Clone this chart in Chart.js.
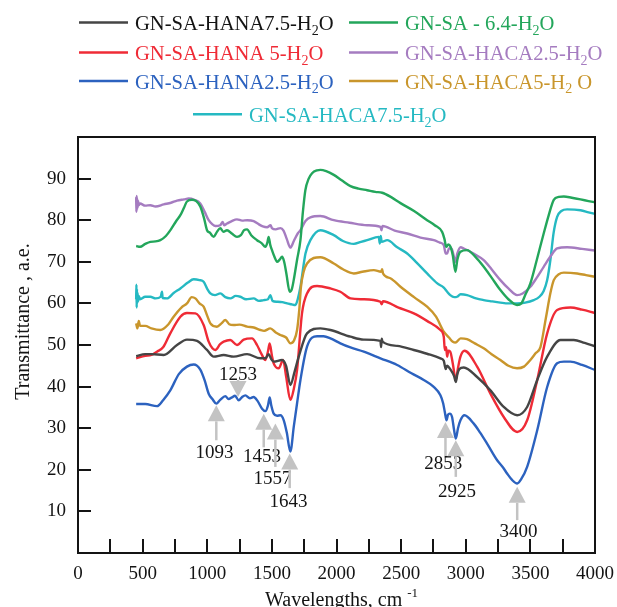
<!DOCTYPE html>
<html>
<head>
<meta charset="utf-8">
<script src="https://cdn.jsdelivr.net/npm/chart.js@4.4.1/dist/chart.umd.min.js"></script>
<style>
html,body{margin:0;padding:0;background:#ffffff;}
canvas{display:block;}
</style>
</head>
<body>
<canvas id="c" width="617" height="607"></canvas>
<script>
// ---------------- DATA ----------------
const seriesLabels = ['GN-SA-HANA7.5-H₂O','GN-SA - 6.4-H₂O','GN-SA-HANA 5-H₂O','GN-SA-HACA2.5-H₂O','GN-SA-HANA2.5-H₂O','GN-SA-HACA5-H₂ O','GN-SA-HACA7.5-H₂O'];
const xTickLabels = ['0','500','1000','1500','2000','2500','3000','3500','4000'];
const yTickLabels = ['10','20','30','40','50','60','70','80','90'];

const hana75X = [450,520,568,663,766,843,921,998,1050,1127,1204,1308,1411,1450,1475,1495,1514,1579,1610,1643,1675,1708,1772,1875,1953,2108,2211,2340,2345,2350,2356,2470,2598,2700,2804,2830,2845,2855,2865,2880,2910,2923,2935,2950,2985,3088,3191,3294,3398,3475,3553,3630,3733,3836,3920,4000];
const hana75Y = [47.3,47.8,47.8,47.6,50.0,51.3,51.0,48.8,47.2,47.6,47.2,47.8,46.8,46.8,47.8,46.6,46.0,46.4,45.0,40.4,43.5,47.2,52.8,54.0,53.6,52.0,51.3,51.0,49.5,51.5,50.8,49.8,48.8,47.9,46.8,46.2,44.2,45.0,44.8,44.2,42.5,41.1,43.0,44.2,44.6,42.3,39.1,35.1,33.1,35.1,41.6,47.2,51.2,51.2,50.5,49.7];

const gnsaX = [450,480,520,560,600,637,680,715,760,792,820,843,882,915,946,975,998,1020,1050,1075,1101,1125,1153,1190,1230,1260,1285,1308,1340,1385,1420,1450,1465,1475,1488,1501,1520,1540,1560,1579,1595,1612,1638,1655,1669,1695,1721,1740,1759,1785,1811,1850,1875,1920,1979,2040,2108,2170,2237,2300,2353,2420,2495,2600,2701,2760,2817,2835,2849,2865,2882,2900,2920,2935,2959,3010,3080,3139,3200,3268,3330,3397,3430,3460,3500,3550,3603,3640,3681,3720,3759,3820,3888,3950,4000];
const gnsaY = [73.8,73.6,74.3,74.8,74.9,75.2,76.2,77.6,79.8,81.2,83.0,84.5,84.9,84.6,83.3,80.5,77.6,77.0,76.0,77.2,78.1,77.2,77.6,76.8,76.0,76.4,77.6,77.8,76.4,75.2,74.5,73.6,74.6,76.0,74.0,72.8,71.2,70.0,70.5,71.2,70.0,67.2,62.8,63.5,65.6,70.5,75.2,82.0,87.2,90.0,91.3,92.0,92.1,91.8,90.9,89.6,88.2,87.6,87.2,86.8,86.6,85.6,84.1,82.2,80.0,78.8,77.2,75.5,73.6,74.2,73.6,71.5,67.6,70.5,72.4,72.8,71.0,68.8,66.2,63.2,61.0,59.6,60.0,62.0,64.8,70.5,76.8,81.0,84.9,85.6,85.7,85.4,85.0,84.6,84.3];

const hana5X = [450,520,568,611,660,714,792,843,908,972,1011,1040,1062,1100,1127,1178,1230,1282,1346,1385,1420,1450,1470,1483,1500,1514,1553,1587,1610,1643,1670,1695,1733,1772,1850,1953,2030,2108,2200,2340,2350,2360,2480,2598,2700,2804,2830,2838,2848,2856,2865,2880,2900,2923,2940,2959,2990,3088,3191,3294,3398,3475,3553,3630,3707,3810,3900,4000];
const hana5Y = [46.8,47.4,47.6,48.4,49.5,52.8,56.8,57.7,57.6,54.8,50.8,49.2,48.8,50.2,50.8,51.2,50.0,51.3,51.6,50.0,47.8,46.4,48.5,50.4,47.5,45.6,44.4,46.4,42.5,36.8,39.5,44.0,57.6,62.4,64.2,63.6,62.8,61.2,61.0,60.4,59.8,60.5,59.0,57.6,55.8,53.6,52.0,48.8,49.5,47.2,48.6,48.4,45.5,41.6,44.5,47.2,48.6,44.8,38.3,32.7,29.1,31.9,41.6,52.8,58.4,59.0,58.5,57.7];

const haca25X = [450,452,454,456,458,461,465,470,480,520,560,600,663,720,766,820,856,900,946,980,1011,1040,1063,1100,1120,1130,1153,1190,1230,1270,1310,1359,1400,1430,1463,1490,1500,1530,1566,1590,1615,1643,1670,1700,1721,1760,1798,1875,1979,2100,2237,2340,2348,2356,2450,2547,2650,2753,2800,2830,2845,2856,2870,2890,2910,2920,2935,2960,2985,3060,3139,3200,3268,3330,3397,3440,3500,3550,3603,3660,3707,3784,3900,4000];
const haca25Y = [85.5,82.0,85.8,82.5,85.2,83.0,84.6,83.6,84.0,83.5,83.6,83.3,83.8,84.2,84.7,85.0,85.2,84.9,84.0,82.0,80.0,79.0,78.6,78.8,79.6,78.8,79.2,79.8,80.2,79.9,80.0,79.8,79.0,78.5,78.3,78.8,78.1,77.8,78.1,77.5,75.5,73.4,75.0,76.8,77.6,79.8,80.7,81.0,80.0,79.4,78.8,78.4,77.6,78.6,77.5,76.8,75.8,75.2,74.6,74.0,72.0,72.0,73.2,73.2,71.0,70.0,72.0,73.5,73.2,72.0,70.4,68.2,65.6,63.6,62.0,62.4,64.0,66.2,68.8,71.5,73.2,73.5,73.1,72.7];

const hana25X = [450,520,611,660,714,780,843,895,946,980,1011,1040,1070,1100,1140,1165,1191,1215,1243,1270,1295,1330,1359,1390,1424,1450,1470,1483,1495,1514,1540,1566,1592,1615,1643,1670,1695,1721,1772,1850,1900,1953,2030,2108,2211,2340,2469,2580,2675,2750,2804,2825,2838,2851,2862,2876,2894,2910,2923,2940,2959,2990,3062,3110,3165,3243,3290,3320,3360,3398,3430,3475,3553,3630,3707,3760,3810,3900,4000];
const hana25Y = [35.8,35.8,35.3,36.8,39.1,43.0,44.8,45.3,44.1,41.5,38.3,37.0,35.9,36.8,37.7,37.0,37.4,37.8,36.7,37.5,37.9,37.2,37.5,36.5,34.7,34.1,35.5,37.4,35.5,33.5,33.0,33.1,31.9,29.0,24.4,30.5,36.0,41.6,49.6,52.1,52.1,51.6,50.4,49.4,48.4,46.8,45.2,43.2,41.6,40.0,37.9,36.0,33.9,31.9,33.2,33.5,32.7,29.5,27.5,30.0,31.9,33.1,31.1,29.0,26.3,22.3,20.5,19.1,17.5,16.7,17.8,20.7,29.5,39.9,45.6,46.0,46.0,45.2,44.0];

const haca5X = [450,460,470,480,520,568,637,700,740,800,843,880,908,940,972,1000,1024,1075,1110,1140,1170,1204,1250,1308,1360,1411,1440,1488,1530,1566,1610,1643,1670,1695,1712,1725,1745,1772,1875,1979,2050,2134,2200,2289,2345,2353,2360,2420,2495,2600,2701,2770,2830,2870,2900,2920,2960,3010,3070,3139,3200,3268,3330,3397,3450,3500,3540,3578,3620,3655,3681,3720,3759,3862,3930,4000];
const haca5Y = [55.2,54.0,55.8,54.6,54.6,54.0,53.6,55.0,56.8,59.0,60.0,61.5,61.2,60.0,59.2,57.0,55.2,54.4,55.2,56.0,55.0,54.8,54.9,54.4,54.2,53.6,53.4,54.0,53.0,52.4,51.8,50.4,51.0,53.6,58.5,64.0,67.5,69.6,71.1,69.6,68.2,67.2,67.6,68.0,67.6,68.2,67.2,66.0,64.0,61.5,59.2,56.8,53.2,51.8,50.8,50.6,51.6,51.4,50.4,49.2,47.8,46.4,45.0,44.4,44.8,46.4,48.0,49.5,56.5,62.5,65.6,67.0,67.4,67.2,66.8,66.4];

const haca75X = [450,452,454,456,458,461,465,470,480,520,560,600,640,650,655,689,740,792,850,895,940,972,1000,1024,1060,1101,1140,1179,1220,1256,1300,1359,1400,1437,1470,1488,1505,1540,1580,1618,1650,1682,1700,1721,1760,1798,1875,1979,2050,2134,2190,2237,2327,2335,2342,2350,2392,2470,2547,2620,2701,2780,2830,2856,2880,2910,2933,2960,3010,3080,3139,3200,3268,3330,3397,3460,3526,3570,3603,3630,3655,3680,3707,3740,3784,3888,3950,4000];
const haca75Y = [61.0,64.5,59.0,63.5,60.0,62.5,60.5,61.8,61.0,61.6,61.6,61.2,61.6,62.8,61.3,61.2,62.5,63.6,65.0,65.8,65.6,65.2,63.5,62.4,62.0,62.4,61.5,61.2,61.8,61.6,61.0,61.2,60.6,60.8,61.0,62.0,60.6,60.4,60.3,60.0,59.8,59.6,61.0,64.0,72.0,75.2,77.6,76.4,75.0,74.3,74.8,75.2,76.0,74.4,76.2,74.8,75.2,73.5,72.0,69.8,67.2,64.8,63.8,62.8,62.0,61.5,61.6,62.2,62.0,61.2,60.8,60.5,60.2,60.0,60.0,60.2,60.8,61.6,63.0,65.6,70.5,77.0,80.8,82.2,82.6,82.4,81.9,81.5];

// peak annotations (data coordinates)
const annoLabels = ['1093','1253','1453','1557','1643','2853','2925','3400'];
const annoX      = [1070, 1238, 1437, 1527, 1638, 2843, 2923, 3398];
const annoTip    = [35.5, 37.5, 33.5, 31.1, 23.9, 31.5, 27.1, 15.9];
const annoTail   = [27.1, 41.6, 25.4, 20.7, 15.6, 22.9, 18.3, 7.9];
const annoLabelX = [1057, 1238, 1424, 1504, 1628, 2825, 2933, 3409];
const annoLabelY = [24.3, 43.2, 23.3, 18.1, 12.7, 21.7, 14.9, 5.5];

// ---------------- STYLE ----------------
const SERIF = '"Liberation Serif","Times New Roman",Times,serif';
const colors = ['#454545','#23a65b','#ef2b36','#a57cc0','#2c62bf','#c9962c','#25b9c2'];
const textColors = ['#141414','#23a65b','#ef2b36','#a57cc0','#2c62bf','#c9962c','#25b9c2'];

function pts(xs, ys){ return xs.map((x,i)=>({x:x, y:ys[i]})); }
const seriesData = [
  pts(hana75X, hana75Y), pts(gnsaX, gnsaY), pts(hana5X, hana5Y), pts(haca25X, haca25Y),
  pts(hana25X, hana25Y), pts(haca5X, haca5Y), pts(haca75X, haca75Y)
];

function drawRich(ctx, text, x, y, size, color){
  ctx.fillStyle = color;
  ctx.textAlign = 'left';
  ctx.textBaseline = 'alphabetic';
  let cx = x;
  text.split(/(₂)/).forEach(p=>{
    if(!p) return;
    if(p === '₂'){
      ctx.font = Math.round(size*0.68)+'px '+SERIF;
      ctx.fillText('2', cx, y + size*0.24);
      cx += ctx.measureText('2').width;
    } else {
      ctx.font = size+'px '+SERIF;
      ctx.fillText(p, cx, y);
      cx += ctx.measureText(p).width;
    }
  });
  return cx - x;
}

const legendSlots = [
  {x:79,y:30},{x:349,y:30},
  {x:79,y:60},{x:349,y:60},
  {x:79,y:88.5},{x:349,y:88.5},
  {x:193,y:121.7}
];

const legendPlugin = {
  id:'ftirLegend',
  afterDraw(chart){
    const ctx = chart.ctx;
    ctx.save();
    chart.data.datasets.forEach((ds,i)=>{
      const s = legendSlots[i];
      ctx.strokeStyle = ds.borderColor;
      ctx.lineWidth = 2.5;
      ctx.beginPath();
      ctx.moveTo(s.x, s.y-7.5);
      ctx.lineTo(s.x+49, s.y-7.5);
      ctx.stroke();
      drawRich(ctx, ds.label, s.x+56, s.y, 20.6, textColors[i]);
    });
    ctx.restore();
  }
};

const decorPlugin = {
  id:'decor',
  afterDatasetsDraw(chart){
    const {ctx, scales:{x, y}} = chart;
    ctx.save();
    for(let i=0;i<annoLabels.length;i++){
      const px = x.getPixelForValue(annoX[i]);
      const tip = y.getPixelForValue(annoTip[i]);
      const tail = y.getPixelForValue(annoTail[i]);
      const dir = tail > tip ? 1 : -1;
      const headLen = 16, halfW = 8.5;
      const base = tip + dir*headLen;
      ctx.strokeStyle = '#c3c3c3';
      ctx.fillStyle = '#c3c3c3';
      ctx.lineWidth = 2.5;
      ctx.beginPath();
      ctx.moveTo(px, base);
      ctx.lineTo(px, tail);
      ctx.stroke();
      ctx.beginPath();
      ctx.moveTo(px, tip);
      ctx.lineTo(px-halfW, base);
      ctx.lineTo(px+halfW, base);
      ctx.closePath();
      ctx.fill();
      ctx.font = '19px '+SERIF;
      ctx.fillStyle = '#141414';
      ctx.textAlign = 'center';
      ctx.textBaseline = 'alphabetic';
      ctx.fillText(annoLabels[i], x.getPixelForValue(annoLabelX[i]), y.getPixelForValue(annoLabelY[i]) + 6.4);
    }
    ctx.restore();
  },
  afterDraw(chart){
    const {ctx, chartArea:a, scales:{x, y}} = chart;
    ctx.save();
    ctx.strokeStyle = '#141414';
    ctx.lineWidth = 2;
    ctx.strokeRect(a.left, a.top, a.right-a.left, a.bottom-a.top);
    x.ticks.forEach(t=>{
      if(t.value <= x.min || t.value >= x.max) return;
      const px = Math.round(x.getPixelForValue(t.value));
      ctx.beginPath(); ctx.moveTo(px, a.bottom); ctx.lineTo(px, a.bottom-14); ctx.stroke();
    });
    y.ticks.forEach(t=>{
      if(t.value <= y.min || t.value >= y.max) return;
      const py = Math.round(y.getPixelForValue(t.value));
      ctx.beginPath(); ctx.moveTo(a.left, py); ctx.lineTo(a.left+13, py); ctx.stroke();
    });
    // axis titles
    ctx.fillStyle = '#141414';
    ctx.textBaseline = 'alphabetic';
    ctx.font = '20px '+SERIF;
    ctx.save();
    ctx.translate(29, 321.5);
    ctx.rotate(-Math.PI/2);
    ctx.textAlign = 'center';
    ctx.fillText('Transmittance , a.e.', 0, 0);
    ctx.restore();
    ctx.textAlign = 'left';
    const main = 'Wavelengths, cm';
    ctx.fillText(main, 265, 605.5);
    const w = ctx.measureText(main).width;
    ctx.font = '13px '+SERIF;
    ctx.fillText('-1', 265 + w + 5, 596.5);
    ctx.restore();
  }
};

Chart.defaults.font.family = SERIF;
Chart.defaults.color = '#141414';

new Chart(document.getElementById('c'), {
  type: 'line',
  data: {
    datasets: seriesLabels.map((lab,i)=>({
      label: lab,
      data: seriesData[i],
      borderColor: colors[i],
      backgroundColor: colors[i],
      borderWidth: 2.4,
      pointRadius: 0,
      fill: false,
      cubicInterpolationMode: 'monotone'
    }))
  },
  options: {
    responsive: false,
    animation: false,
    devicePixelRatio: 1,
    parsing: true,
    layout: { padding: { top: 137, right: 22, left: 0, bottom: 0 } },
    plugins: { legend: { display: false }, tooltip: { enabled: false }, title: { display: false } },
    scales: {
      x: {
        type: 'linear', min: 0, max: 4000,
        grid: { display: false, drawTicks: false },
        border: { display: true, color: '#141414', width: 2 },
        ticks: {
          stepSize: 250, autoSkip: false, maxRotation: 0, minRotation: 0,
          padding: 10, color: '#141414', font: { size: 19, family: SERIF },
          callback: v => xTickLabels.includes(String(v)) ? String(v) : ''
        },
        afterFit: s => { s.height = 54; s.paddingLeft = 0; s.paddingRight = 0; s.paddingTop = 0; s.paddingBottom = 0; }
      },
      y: {
        type: 'linear', min: 0, max: 100,
        grid: { display: false, drawTicks: false },
        border: { display: true, color: '#141414', width: 2 },
        ticks: {
          stepSize: 10, autoSkip: false, padding: 12, color: '#141414', font: { size: 19, family: SERIF },
          callback: v => yTickLabels.includes(String(v)) ? String(v) : ''
        },
        afterFit: s => { s.width = 78; s.paddingLeft = 0; s.paddingRight = 0; s.paddingTop = 0; s.paddingBottom = 0; }
      }
    }
  },
  plugins: [legendPlugin, decorPlugin]
});
</script>
</body>
</html>
